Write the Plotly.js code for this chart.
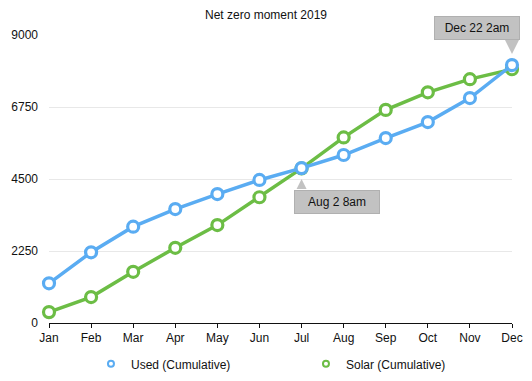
<!DOCTYPE html>
<html>
<head>
<meta charset="utf-8">
<script src="https://cdn.plot.ly/plotly-3.0.1.min.js"></script>
<style>html,body{margin:0;padding:0;background:#fff;}#chart{width:532px;height:381px;}</style>
</head>
<body>
<div id="chart"></div>
<script>
const months = ["Jan","Feb","Mar","Apr","May","Jun","Jul","Aug","Sep","Oct","Nov","Dec"];
const usedCumulative = [1240, 2210, 3010, 3560, 4030, 4470, 4840, 5250, 5780, 6280, 7030, 8060];
const solarCumulative = [340, 810, 1600, 2350, 3060, 3930, 4830, 5800, 6660, 7210, 7620, 7930];
const yTicks = [0, 2250, 4500, 6750, 9000];
const seriesNames = ["Used (Cumulative)", "Solar (Cumulative)"];
const notes = [
  {month: "Dec", series: "used", text: "Dec 22 2am"},
  {month: "Jul", series: "used", text: "Aug 2 8am"}
];

const blue = "#5aacf2";
const green = "#6cbd45";
const FONT = "Liberation Sans, Arial, Helvetica, sans-serif";

function lineTrace(y, name, color) {
  return {
    x: months, y: y, name: name, type: "scatter", mode: "lines+markers",
    showlegend: false, cliponaxis: false,
    line: {color: color, width: 3.5},
    marker: {symbol: "circle", size: 11, color: "#ffffff", line: {color: color, width: 3.2}},
    hoverinfo: "skip"
  };
}
function legendTrace(name, color) {
  return {
    x: [null], y: [null], name: name, type: "scatter", mode: "markers",
    marker: {symbol: "circle", size: 6, color: "#ffffff", line: {color: color, width: 2}}
  };
}

const data = [
  lineTrace(solarCumulative, seriesNames[1], green),
  lineTrace(usedCumulative, seriesNames[0], blue),
  legendTrace(seriesNames[0], blue),
  legendTrace(seriesNames[1], green)
];

function yOf(n) {
  const i = months.indexOf(n.month);
  return n.series === "used" ? usedCumulative[i] : solarCumulative[i];
}
const boxStyle = {
  xref: "x", yref: "y", showarrow: false,
  bgcolor: "#c2c2c2", bordercolor: "#b0b0b0", borderwidth: 1,
  font: {family: FONT, size: 12, color: "#111"},
  width: 78, height: 16, borderpad: 3
};
const annotations = [
  Object.assign({}, boxStyle, {x: notes[0].month, y: yOf(notes[0]), text: notes[0].text, xshift: -35, yshift: 37}),
  {x: notes[0].month, y: yOf(notes[0]), xref: "x", yref: "y", text: "", showarrow: true,
   ax: 0, ay: -26, arrowhead: 2, arrowsize: 2.8, arrowwidth: 1, arrowcolor: "#c2c2c2", standoff: 11},
  Object.assign({}, boxStyle, {x: notes[1].month, y: yOf(notes[1]), text: notes[1].text, xshift: 35, yshift: -34}),
  {x: notes[1].month, y: yOf(notes[1]), xref: "x", yref: "y", text: "", showarrow: true,
   ax: 0, ay: 21, arrowhead: 2, arrowsize: 2, arrowwidth: 1, arrowcolor: "#c2c2c2", standoff: 11}
];

const layout = {
  width: 532, height: 381,
  margin: {l: 49, r: 20, t: 35, b: 58, autoexpand: false},
  paper_bgcolor: "#fff", plot_bgcolor: "#fff",
  font: {family: FONT, size: 12, color: "#111"},
  title: {text: "Net zero moment 2019", x: 0.5, xanchor: "center", y: 0.96, yanchor: "middle",
          font: {family: FONT, size: 12, color: "#111"}},
  xaxis: {
    type: "category", range: [0, 11], showgrid: false, zeroline: false,
    showline: true, linecolor: "#111", linewidth: 1,
    ticks: "outside", ticklen: 4, tickcolor: "#111",
    tickfont: {family: FONT, size: 12, color: "#111"}, fixedrange: true
  },
  yaxis: {
    range: [0, 9000], tickvals: yTicks, ticktext: yTicks.map(String),
    showgrid: true, gridcolor: "#e8e8e8", gridwidth: 1, zeroline: false, showline: false,
    ticks: "", ticklabelstandoff: 10,
    tickfont: {family: FONT, size: 12, color: "#111"}, fixedrange: true
  },
  showlegend: true,
  legend: {
    orientation: "h", xref: "paper", x: 0.555, xanchor: "center",
    yref: "container", y: 0.045, yanchor: "middle",
    font: {family: FONT, size: 12, color: "#111"},
    entrywidth: 170, itemwidth: 30, bgcolor: "rgba(0,0,0,0)"
  },
  annotations: annotations
};

Plotly.newPlot("chart", data, layout, {staticPlot: true, displayModeBar: false});
</script>
</body>
</html>
